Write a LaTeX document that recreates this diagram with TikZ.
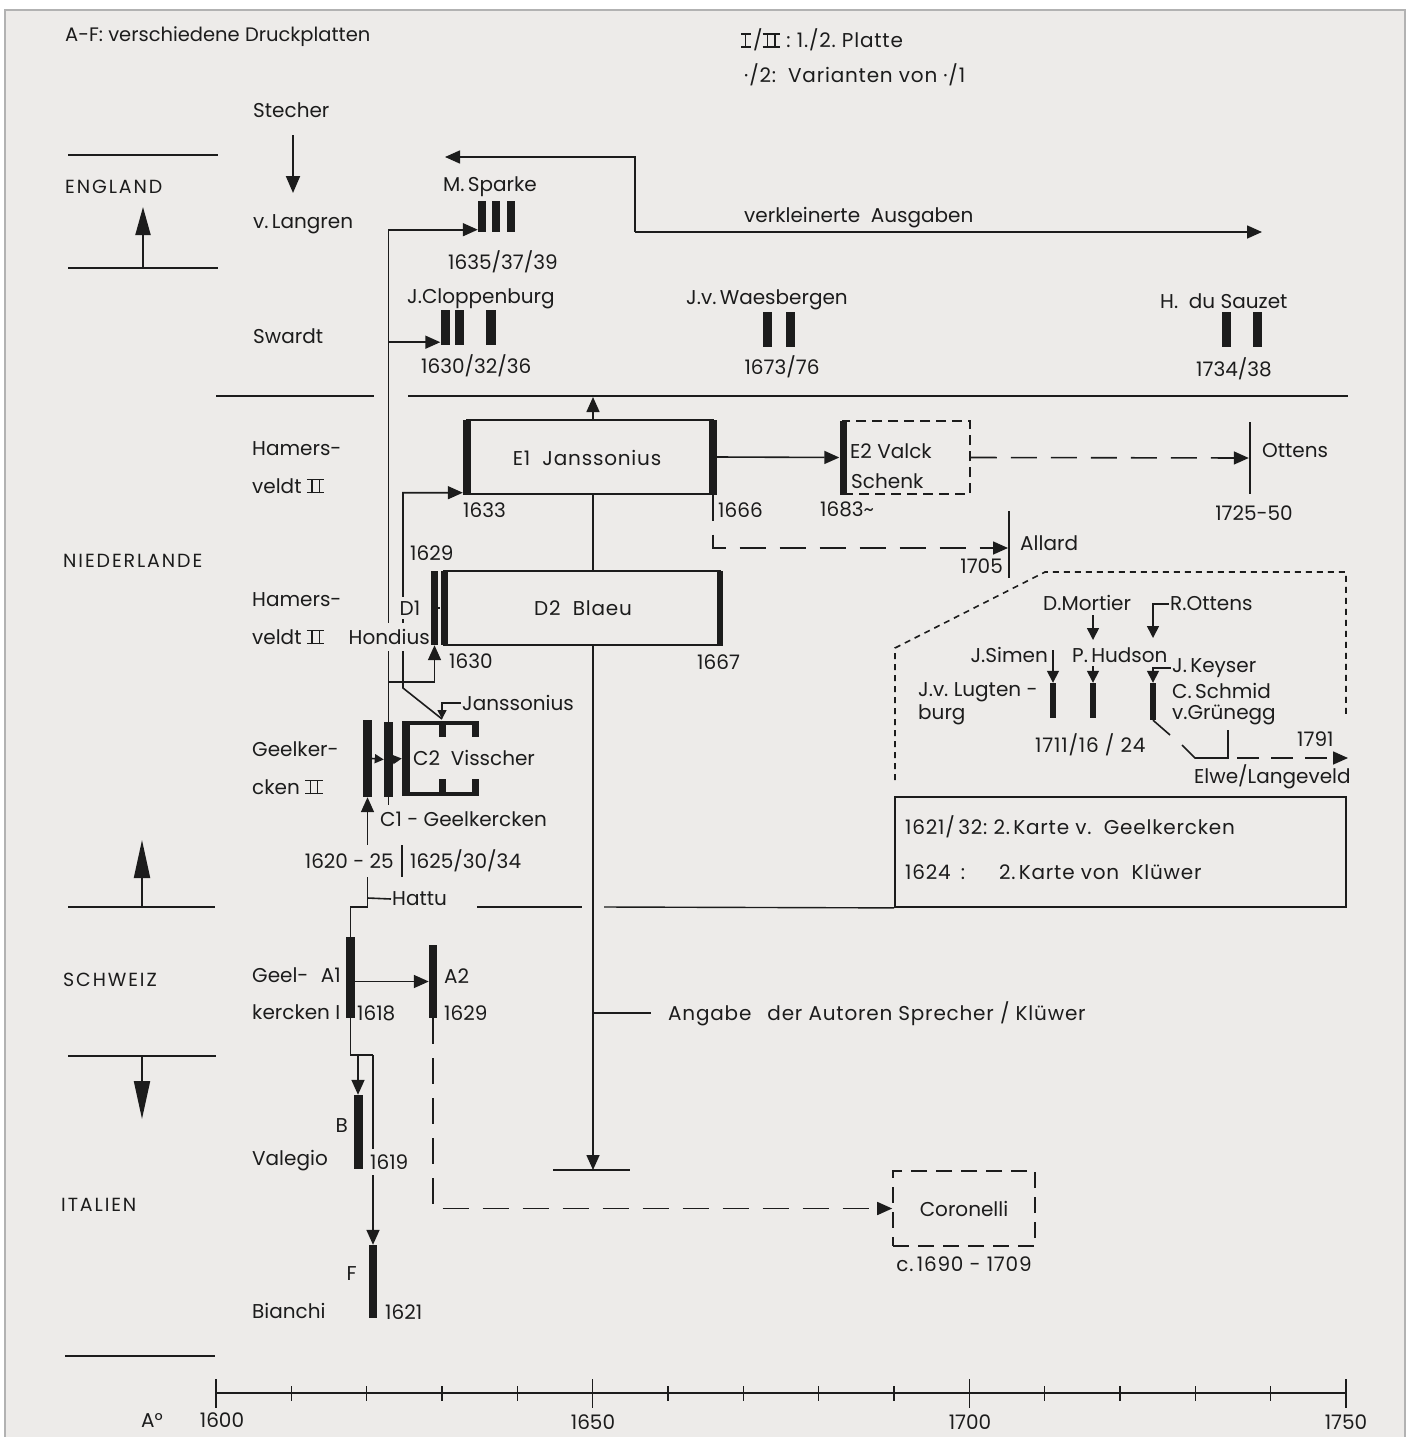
\documentclass[tikz,border=0pt]{standalone}
\usepackage{fontspec}
\setmainfont{Poppins}
\newfontfamily\spacedfont[LetterSpace=10]{Poppins}
\newfontfamily\midspaced[LetterSpace=4]{Poppins}
\usetikzlibrary{arrows.meta,calc}
\definecolor{ink}{HTML}{1C1C1C}
\definecolor{paperc}{HTML}{EDEBE9}
\pgfdeclarelayer{paper}
\pgfdeclarelayer{under}
\pgfsetlayers{paper,under,main}
\newcommand\fsz{\fontsize{20}{24}\selectfont}
\newcommand\fsy{\fontsize{19}{23}\selectfont}
\newcommand\fsh{\fontsize{19.5}{23}\selectfont}
\newcommand\RomII{\mbox{\rlap{\rule{0.88em}{1.4pt}}\rlap{\rule[0.65em]{0.88em}{1.4pt}}\hspace{0.22em}\rule{1.4pt}{0.72em}\hspace{0.3em}\rule{1.4pt}{0.72em}\hspace{0.22em}}}
\newcommand\RomI{\mbox{\rlap{\rule{0.5em}{1.4pt}}\rlap{\rule[0.65em]{0.5em}{1.4pt}}\hspace{0.18em}\rule{1.4pt}{0.72em}\hspace{0.18em}}}
\begin{document}
\begin{tikzpicture}[x=1pt,y=-1pt,
  lbl/.style={font=\fsz, text=ink, inner sep=1pt},
  lblb/.style={lbl, fill=paperc},
  wlbl/.style={lbl, font=\midspaced\fsz},
  ctry/.style={lbl, font=\spacedfont\fsy},
  bar/.style={fill=ink, draw=none, inner sep=0pt, minimum width=8pt},
  ln/.style={draw=ink, line width=1.6pt},
  arr/.style={ln, -{Triangle[length=15pt,width=13pt]}},
  medarr/.style={ln, -{Triangle[length=12pt,width=12pt]}},
  sarr/.style={ln, -{Triangle[length=9pt,width=9pt]}},
  ldash/.style={dash pattern=on 26pt off 14pt},
  sdash/.style={dash pattern=on 6pt off 5pt},
  sepl/.style={draw=ink, line width=1.4pt},
]
\useasboundingbox (0,0) rectangle (1410,1437);
\begin{pgfonlayer}{paper}
\fill[white] (0,0) rectangle (1410,1437);
\fill[paperc] (5,10) rectangle (1405,1437);
\draw[gray!60, line width=1.2pt] (5,1437) -- (5,10) -- (1405,10) -- (1405,1437);
\end{pgfonlayer}

% ---------- country separators and arrows
\draw[sepl] (68,155) -- (218,155);
\draw[sepl] (68,268) -- (218,268);
\draw[sepl] (216,396) -- (374,396);
\draw[sepl] (408,396) -- (1348,396);
\draw[sepl] (68,907) -- (215,907);
\draw[sepl] (477,907) -- (582,907);
\draw[sepl] (68,1056) -- (216,1056);
\draw[sepl] (65,1356) -- (215,1356);
\draw[draw=ink, line width=2pt, -{Triangle[length=28pt,width=15pt]}] (143,268) -- (143,207);
\draw[draw=ink, line width=2pt, -{Triangle[length=38pt,width=16pt]}] (142,907) -- (142,840);
\draw[draw=ink, line width=2pt, -{Triangle[length=38pt,width=16pt]}] (142,1056) -- (142,1119);
\draw[draw=ink, line width=2pt, -{Triangle[length=17pt,width=14pt]}] (293,135) -- (293,193);

% ---------- axis
\draw[draw=ink, line width=1.8pt] (216,1393) -- (1346,1393);
\foreach \i in {1,2,3,4,6,7,8,9,11,12,13,14}
  \draw[ln] ({216+\i*75.333},1386) -- ({216+\i*75.333},1401);
\foreach \i in {0,5,10,15}
  \draw[ln] ({216+\i*75.333},1379) -- ({216+\i*75.333},1408);
\node[lbl] (ao) at (152,1420) {A°};
\node[lbl] (ax1600) at (222,1420) {1600};
\node[lbl] (ax1650) at (593,1422) {1650};
\node[lbl] (ax1700) at (970,1422) {1700};
\node[lbl] (ax1750) at (1346,1422) {1750};

% ---------- headers and row labels
\node[lbl, font=\fsh, anchor=west] (taf) at (64,37) {A-F: verschiedene Druckplatten};
\node[wlbl, anchor=west] (ti2) at (740,40) {\RomI\,/\RomII\ :\ 1./2.\ Platte};
\node[wlbl, anchor=west] (tvar) at (743,75) {·/2:\hspace{12pt}Varianten von ·/1};
\node[lbl, anchor=west] (stecher) at (252,110) {Stecher};
\node[ctry, anchor=west] (england) at (64,187) {ENGLAND};
\node[lbl, anchor=west] (langren) at (252,224) {v.\,Langren};
\node[lbl, anchor=west] (swardt) at (252,336) {Swardt};
\node[lbl, anchor=west] (ham1a) at (251,449) {Hamers-};
\node[lbl, anchor=west] (ham1b) at (251,486) {veldt\ \RomII};
\node[ctry, anchor=west] (niederl) at (62,561) {NIEDERLANDE};
\node[lbl, anchor=west] (ham2a) at (251,600) {Hamers-};
\node[lbl, anchor=west] (ham2b) at (251,637) {veldt\ \RomII};
\node[lbl, anchor=west] (geel2a) at (251,749) {Geelker-};
\node[lbl, anchor=west] (geel2b) at (251,787) {cken\ \RomII};
\node[ctry, anchor=west] (schweiz) at (62,980) {SCHWEIZ};
\node[lbl, anchor=west] (geel1a) at (251,975) {Geel-};
\node[lbl, anchor=east] (a1t) at (342,975) {A1};
\node[lbl, anchor=west] (geel1b) at (251,1012) {kercken I};
\node[lbl, anchor=west] (valegio) at (251,1161) {Valegio};
\node[ctry, anchor=west] (italien) at (60,1205) {ITALIEN};
\node[lbl, anchor=west] (bianchi) at (251,1311) {Bianchi};

% ---------- England / Swardt plates
\node[bar, minimum height=31pt] (spk1) at (482,216) {};
\node[bar, minimum height=31pt] (spk2) at (496,216) {};
\node[bar, minimum height=31pt] (spk3) at (511,216) {};
\node[bar, minimum height=35pt, minimum width=9pt] (cl1) at (445,327.5) {};
\node[bar, minimum height=35pt, minimum width=9pt] (cl2) at (459.5,327.5) {};
\node[bar, minimum height=35pt, minimum width=10pt] (cl3) at (490.5,327.5) {};
\node[bar, minimum height=35pt, minimum width=9pt] (w1) at (767,329.5) {};
\node[bar, minimum height=35pt, minimum width=9pt] (w2) at (790,329.5) {};
\node[bar, minimum height=35pt, minimum width=9pt] (s1) at (1226,329.5) {};
\node[bar, minimum height=35pt, minimum width=9pt] (s2) at (1257,329.5) {};
\node[lbl] (sparke) at (490,187) {M.\,Sparke};
\node[lbl] (spy) at (503,262) {1635/37/39};
\node[lbl, anchor=west] (clop) at (406,299) {J.Cloppenburg};
\node[lbl, anchor=west] (clopy) at (420,366) {1630/32/36};
\node[lbl] (waes) at (767,300) {J.v.\,Waesbergen};
\node[lbl] (waesy) at (782,367) {1673/76};
\node[lbl, anchor=west] (sauzet) at (1159,301) {H.\ \ du Sauzet};
\node[lbl] (sauzety) at (1234,369) {1734/38};
\node[lbl, anchor=west] (verkl) at (743,218) {verkleinerte\ \ Ausgaben};
\coordinate (vk) at (635,232);
\coordinate (vkl) at (445,157);
\coordinate (vkr) at (1262,232);
\draw[arr] (vk) -- (vk |- vkl) -- (vkl);
\draw[arr] (vk) -- (vkr);

% ---------- E / D boxes
\node[draw=ink, line width=2pt, minimum width=246pt, minimum height=74pt, inner sep=0] (e1) at (590,457) {};
\node[bar, minimum height=75pt, minimum width=8pt] (e1l) at (467,457) {};
\node[bar, minimum height=75pt, minimum width=8pt] (e1r) at (713,457) {};
\node[wlbl] (e1t) at (587,458) {E1\ \ Janssonius};
\node[draw=ink, line width=1.6pt, dash pattern=on 10pt off 6pt, minimum width=127pt, minimum height=73pt, inner sep=0] (e2) at (906.5,457.5) {};
\node[bar, minimum height=74pt, minimum width=7pt] (e2l) at (843,457.5) {};
\node[lbl, anchor=west] (e2t1) at (849,451) {E2 Valck};
\node[lbl, anchor=west] (e2t2) at (850,481) {Schenk};
\node[fill=ink, inner sep=0, minimum width=2pt, minimum height=72pt] (ott) at (1250,458) {};
\node[lbl, anchor=west] (ottens) at (1261,451) {Ottens};
\node[lbl] (otty) at (1254,513) {1725-50};
\node[fill=ink, inner sep=0, minimum width=2pt, minimum height=67pt] (allv) at (1009,544.5) {};
\node[lbl, anchor=west] (allard) at (1019,543) {Allard};
\node[lbl, anchor=east] (ally) at (1004,566) {1705};
\node[lbl, anchor=west] (y1633) at (462,510) {1633};
\node[lbl, anchor=west] (y1666) at (717,510) {1666};
\node[lbl, anchor=west] (y1683) at (819,509) {1683\textasciitilde};

\node[draw=ink, line width=2pt, minimum width=276pt, minimum height=74pt, inner sep=0] (d2) at (582,608) {};
\node[bar, minimum width=7pt, minimum height=74pt] (d1a) at (434.5,608) {};
\node[bar, minimum width=7pt, minimum height=74pt] (d1b) at (444,608) {};
\node[bar, minimum width=6pt, minimum height=75pt] (d2r) at (720,608) {};
\node[wlbl] (d2t) at (583,608) {D2\ \ Blaeu};
\node[lbl, anchor=west] (y1629) at (409,553) {1629};
\node[lbl, anchor=west] (y1630) at (448,661) {1630};
\node[lbl, anchor=west] (y1667) at (696,662) {1667};
\draw[ln] (d1a.east) -- (d1b.west);

\coordinate (vx) at (593,0);
\coordinate (vtop) at (593,397);
\coordinate (vbot) at (593,1170);
\draw[arr] (e1.north -| vx) -- (vtop);
\draw[ln] (e1.south -| vx) -- (d2.north -| vx);
\draw[arr] (d2.south -| vx) -- (vbot);
\draw[draw=ink, line width=2.5pt] (553,1170) -- (630,1170);
\coordinate (vang) at (593,1013);
\draw[ln] (vang) -- ++(58,0);
\node[wlbl, anchor=west] (angabe) at (667,1014) {Angabe\hspace{16pt}der Autoren\hspace{6pt}Sprecher / Klüwer};

\draw[arr] (e1r.east) -- (e2l.west);
\draw[arr, ldash] (e2.east) -- (ott.west);
\coordinate (allin) at (1008,548);
\draw[arr, ldash] (e1r.south) |- (allin);

% ---------- A, B, F bars (defined early for connectors)
\node[bar, minimum width=9pt, minimum height=81pt] (a1) at (350.5,977.5) {};
\node[bar, minimum width=8pt, minimum height=73pt] (a2) at (433,981.5) {};
\node[bar, minimum width=9pt, minimum height=74pt] (b) at (358,1132) {};
\node[bar, minimum width=8pt, minimum height=73pt] (f) at (373,1281.5) {};

% ---------- C section
\node[bar, minimum width=9pt, minimum height=77pt] (g2) at (367.5,758.5) {};
\node[bar, minimum width=9pt, minimum height=75pt] (c1) at (388.5,759.5) {};
\node[bar, minimum width=8pt, minimum height=75pt] (c2l) at (406,758.5) {};
\draw[draw=ink, line width=4pt] (402,723) -- (479,723);
\draw[draw=ink, line width=4pt] (402,794) -- (479,794);
\fill[ink] (438.5,721) rectangle (445.5,737);
\fill[ink] (472,721) rectangle (479,737);
\fill[ink] (438.5,779) rectangle (445.5,796);
\fill[ink] (472,779) rectangle (479,796);
\node[lbl, anchor=west] (c2t) at (412,758) {C2\ \ Visscher};
\node[lbl, anchor=west] (c1t) at (379,819) {C1 - Geelkercken};
\draw[sarr] (g2.east) -- (c1.west);
\draw[sarr] (c1.east) -- (c2l.west);
\draw[ln] (c1.south) -- ++(0,8);
\node[lbl, anchor=west] (jans) at (461,703) {Janssonius};
\coordinate (jpt) at (442,719);
\coordinate (jbend) at (403,688);
\draw[sarr] (jans.west) -| (jpt);

% trunk to England / Swardt and D1
\draw[arr] (c1.north) |- ([yshift=2pt]spk1.south west);
\draw[arr] (c1.north) |- ([yshift=3pt]cl1.south west);
\coordinate (j1630) at (388.5,682);
\draw[arr] (j1630) -| (d1a.south);

\begin{pgfonlayer}{under}
\draw[arr] (jpt) -- (jbend) |- ([yshift=2pt]e1l.south west);
\end{pgfonlayer}
\node[lblb, inner ysep=4pt] (d1t) at (410,608) {D1};
\node[lblb, anchor=east, inner xsep=1pt, inner ysep=6pt] (hond) at (431,637) {Hondius};

% years 1620-25 and Hattu
\coordinate (hj) at (367.5,898);
\begin{pgfonlayer}{under}
\draw[arr] (hj) -- (g2.south);
\end{pgfonlayer}
\node[lblb, anchor=east, inner ysep=9pt] (y1620) at (395,861) {1620\ -\ 25};
\node[lbl, anchor=west] (y1625) at (409,861) {1625/30/34};
\draw[ln] (402,845) -- (402,877);
\node[lbl, anchor=west] (hattu) at (391,899) {Hattu};
\draw[ln] (hattu.west) -- (hj);
\draw[ln] (hj) -- (367.5,907) -| (a1.north);

% ---------- A, B, F labels and connectors
\node[lbl, anchor=west] (a2t) at (443,976) {A2};
\node[lbl, anchor=west] (y1618) at (356,1013) {1618};
\node[lbl, anchor=west] (y1629b) at (443,1013) {1629};
\node[lbl, anchor=east] (bt) at (349,1126) {B};
\node[lbl, anchor=east] (ft) at (358,1274) {F};
\node[lbl, anchor=west] (y1621) at (384,1312) {1621};
\node[draw=ink, line width=1.6pt, dash pattern=on 16pt off 9pt, minimum width=142pt, minimum height=75pt, inner sep=0, font=\fsz, text=ink] (coron) at (964,1208.5) {Coronelli};
\node[wlbl] (corony) at (964,1264) {c.\,1690\ -\ 1709};
\draw[arr] (a1.east |- a2.west) -- (a2.west);
\draw[arr, ldash] (a2.south) |- (coron.west);
\coordinate (aj) at (350.5,1055);
\coordinate (ajb) at (358,1055);
\coordinate (ajf) at (373,1055);
\draw[ln] (a1.south) -- (aj) -- (ajf);
\draw[arr] (ajb) -- (b.north);
\begin{pgfonlayer}{under}
\draw[arr] (ajf) -- (f.north);
\end{pgfonlayer}
\node[lblb, anchor=west, inner ysep=6pt] (y1619) at (369,1162) {1619};

% ---------- right region (18th century)
\draw[ln, sdash] (895,780) -- (895,648) -- (1045,572) -- (1346,572) -- (1346,717);
\node[bar, minimum width=6pt, minimum height=35pt] (jsb) at (1053,700.5) {};
\node[bar, minimum width=6pt, minimum height=35pt] (phb) at (1093,700.5) {};
\node[bar, minimum width=6pt, minimum height=37pt] (jkb) at (1153,701.5) {};
\node[lbl, anchor=west] (mortier) at (1042,603) {D.Mortier};
\node[lbl, anchor=west] (rottens) at (1169,604) {R.Ottens};
\node[lbl, anchor=east] (simen) at (1049,655) {J.Simen};
\node[lbl, anchor=west] (hudson) at (1071,655) {P.\,Hudson};
\node[lbl, anchor=west] (keyser) at (1171,668) {J.\,Keyser};
\node[lbl, anchor=west] (schmid) at (1171,691) {C.\,Schmid};
\node[lbl, anchor=west] (grun) at (1171,715) {v.Grünegg};
\node[lbl, anchor=west] (lugten) at (917,692) {J.v.\ Lugten -};
\node[lbl, anchor=west] (burg) at (917,715) {burg};
\node[wlbl, anchor=west] (y1711) at (1034,745) {1711/16 / 24};
\node[lbl, anchor=west] (y1791) at (1296,739) {1791};
\node[lbl, anchor=west] (elwe) at (1193,777) {Elwe/Langeveld};
\coordinate (mtop) at (1093,615);
\coordinate (mtip) at (1093,640);
\coordinate (otip) at (1153,638);
\coordinate (stop) at (1053,650);
\coordinate (htop) at (1093,666);
\draw[medarr] (mtop) -- (mtip);
\draw[medarr] (rottens.west) -| (otip);
\draw[medarr] (stop) -- (jsb.north);
\draw[medarr] (htop) -- (phb.north);
\draw[medarr] (keyser.west) -| (jkb.north);
\coordinate (k1) at (1170,735);
\coordinate (k2) at (1182,745);
\coordinate (k3) at (1195,758);
\coordinate (k4) at (1228,758);
\coordinate (k5) at (1228,730);
\coordinate (k6) at (1237,758);
\coordinate (k7) at (1348,758);
\draw[ln] (jkb.south) -- (k1);
\draw[ln] (k2) -- (k3) -- (k4) -- (k5);
\draw[arr, dash pattern=on 22pt off 12pt] (k6) -- (k7);

% ---------- notes box
\node[draw=ink, line width=1.8pt, minimum width=451pt, minimum height=110pt, inner sep=0] (notes) at (1120.5,852) {};
\draw[sepl] (604,907) -- (notes.south west);
\node[wlbl, anchor=west] (n1) at (904,827) {1621/\,32:\ 2.\,Karte v.\ \ Geelkercken};
\node[wlbl, anchor=west] (n2) at (904,872) {1624\hspace{10pt}:\hspace{34pt}2.\,Karte\ von\ \ Klüwer};
\end{tikzpicture}
\end{document}
